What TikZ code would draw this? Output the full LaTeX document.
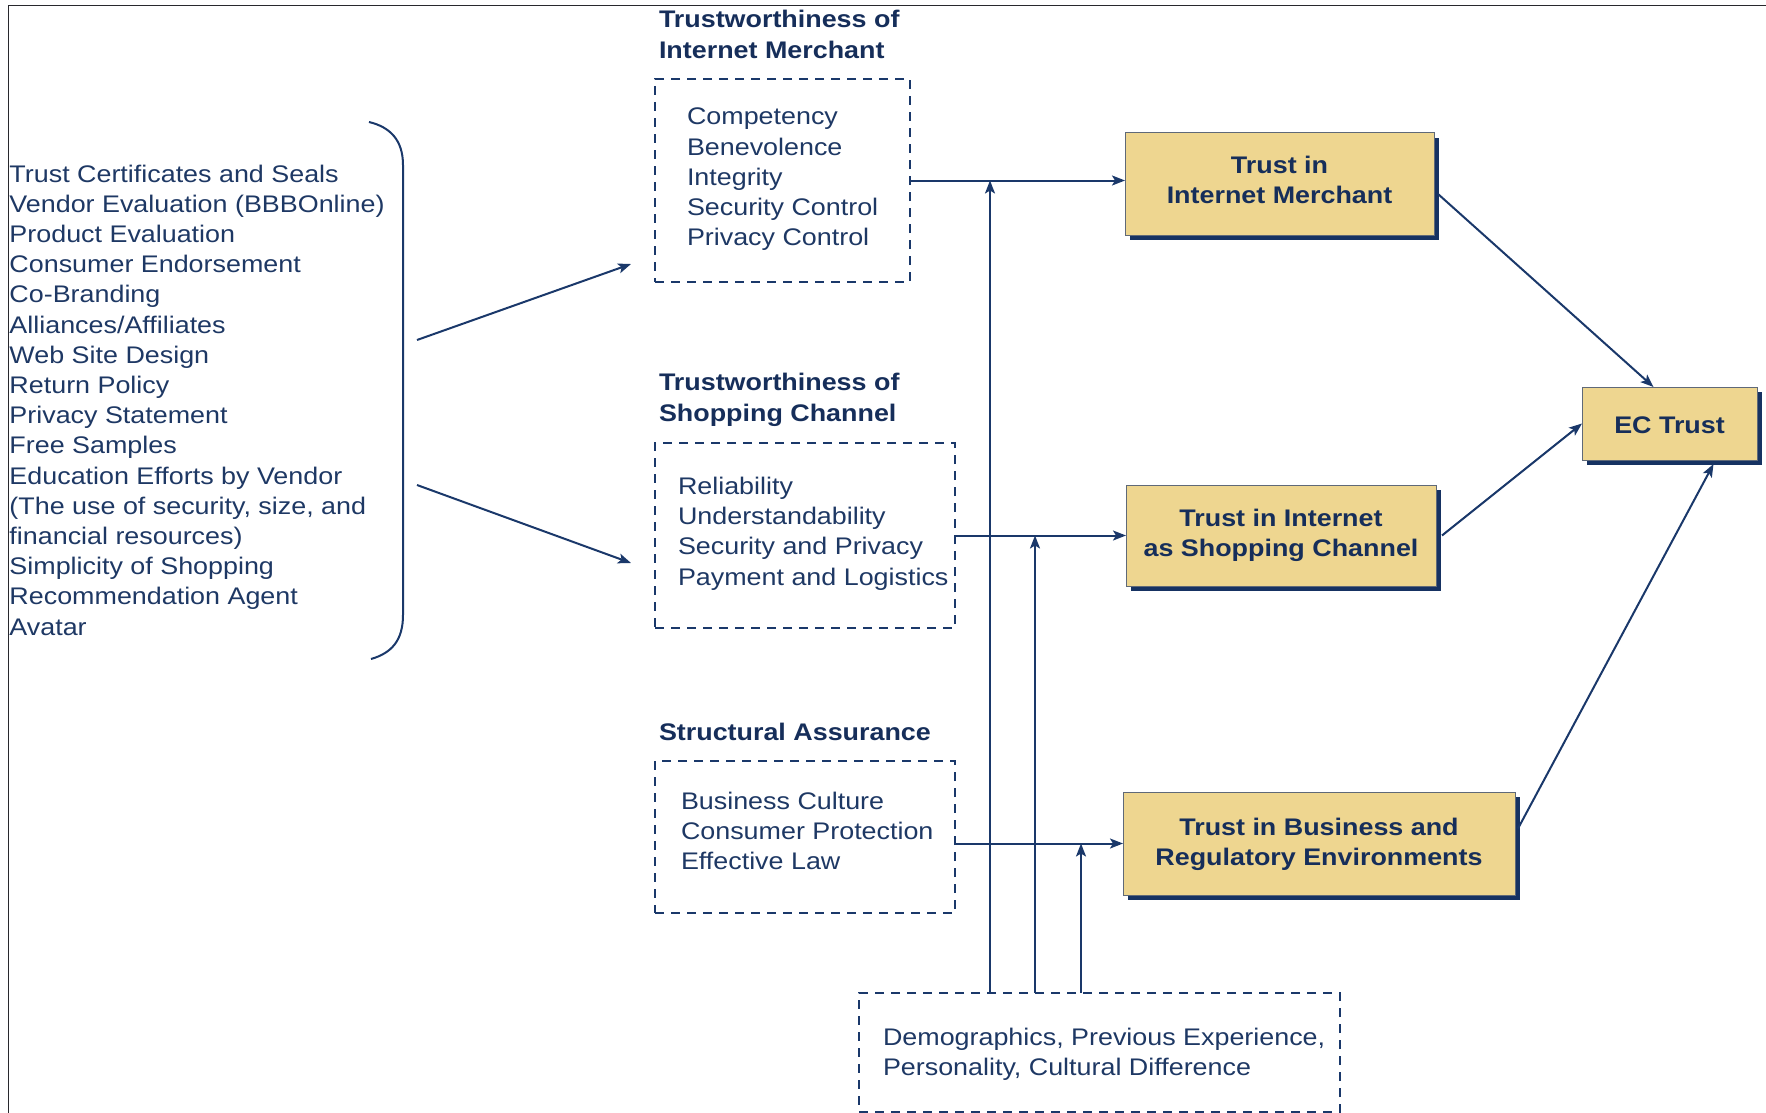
\documentclass[tikz,border=0pt]{standalone}
\usepackage{fontspec}
\setmainfont{Liberation Sans}[FakeStretch=1.12]
\usetikzlibrary{arrows.meta,shadows}

\definecolor{ink}{RGB}{30,56,100}
\definecolor{inkdark}{RGB}{22,46,90}
\definecolor{wire}{RGB}{26,56,106}
\definecolor{boxfill}{RGB}{238,214,144}
\definecolor{boxshadow}{RGB}{22,50,98}
\definecolor{boxedge}{RGB}{95,105,120}
\definecolor{framec}{RGB}{40,40,45}

\begin{document}
\begin{tikzpicture}[x=0.5pt,y=-0.5pt,
  every node/.style={inner sep=0pt,outer sep=0pt},
  body/.style={font=\fontsize{12}{15.1}\selectfont, text=ink, align=left, anchor=west},
  heading/.style={font=\fontsize{12}{15.3}\selectfont\bfseries, text=inkdark, align=left, anchor=west},
  boxtext/.style={font=\fontsize{12}{15}\selectfont\bfseries, text=inkdark, align=center, anchor=center},
  dashbox/.style={draw=wire, line width=0.8pt, dash pattern=on 4.5pt off 3.5pt},
  trustbox/.style={draw=boxedge, line width=0.5pt, fill=boxfill,
    general shadow={fill=boxshadow, shadow xshift=2.5pt, shadow yshift=-2.5pt}},
  arr/.style={draw=wire, line width=1pt, -{Stealth[length=6.5pt,width=5pt,inset=1.5pt]}},
  wireline/.style={draw=wire, line width=1pt}
]
\useasboundingbox (0,0) rectangle (1766,1113);

% frame lines along top and left
\draw[framec, line width=0.8pt] (8.5,1113) -- (8.5,5.5) -- (1766,5.5);

% list of trust-building measures with its bracket
\node[body] (list) at (9.5,400) {Trust Certificates and Seals\\
Vendor Evaluation (BBBOnline)\\
Product Evaluation\\
Consumer Endorsement\\
Co-Branding\\
Alliances/Affiliates\\
Web Site Design\\
Return Policy\\
Privacy Statement\\
Free Samples\\
Education Efforts by Vendor\\
(The use of security, size, and\\
financial resources)\\
Simplicity of Shopping\\
Recommendation Agent\\
Avatar};
\draw[wireline] (369,122) .. controls (390,127) and (403,140) .. (403,165)
  -- (403,615) .. controls (403,640) and (392,653) .. (371,659);

% dashed antecedent boxes
\node[heading] (h1) at (659,34.5) {Trustworthiness of\\Internet Merchant};
\node[dashbox, minimum width=127.5pt, minimum height=101.5pt] (b1) at (782.5,180.5) {};
\node[body] (t1) at (687,179.4) {Competency\\Benevolence\\Integrity\\Security Control\\Privacy Control};

\node[heading] (h2) at (659,400) {Trustworthiness of\\Shopping Channel};
\node[dashbox, minimum width=150pt, minimum height=92.5pt] (b2) at (805,535.5) {};
\node[body] (t2) at (678,533.5) {Reliability\\Understandability\\Security and Privacy\\Payment and Logistics};

\node[heading] (h3) at (659,732) {Structural Assurance};
\node[dashbox, minimum width=150pt, minimum height=76pt] (b3) at (805,837) {};
\node[body] (t3) at (681,831) {Business Culture\\Consumer Protection\\Effective Law};

\node[dashbox, minimum width=240.5pt, minimum height=59.5pt] (bot) at (1099.5,1052.5) {};
\node[body] (tbot) at (883,1054) {Demographics, Previous Experience,\\Personality, Cultural Difference};

% trust boxes
\node[trustbox, minimum width=154.5pt, minimum height=51pt] (tim) at (1279.5,184) {};
\node[boxtext] (timt) at (1279.5,180) {Trust in\\Internet Merchant};
\node[trustbox, minimum width=155pt, minimum height=50.5pt] (tis) at (1281,535.5) {};
\node[boxtext] (tist) at (1281,535.5) {Trust in Internet\\as Shopping Channel};
\node[trustbox, minimum width=196pt, minimum height=51.5pt] (tbr) at (1319,843.5) {};
\node[boxtext] (tbrt) at (1319,844) {Trust in Business and\\Regulatory Environments};
\node[trustbox, minimum width=87.5pt, minimum height=36.5pt] (ec) at (1669.5,423.5) {};
\node[boxtext] (ect) at (1669.5,425) {EC Trust};

% arrows from the bracket
\coordinate (s1) at (417,340);
\coordinate (e1) at (631,264);
\coordinate (s2) at (417,485);
\coordinate (e2) at (631,563);
\draw[arr] (s1) -- (e1);
\draw[arr] (s2) -- (e2);

% antecedents into trust boxes
\draw[arr] (b1.east) -- (b1.east -| tim.west);
\draw[arr] (b2.east) -- (b2.east -| tis.west);
\draw[arr] (b3.east |- tbr.west) -- (tbr.west);

% moderating influences from below
\coordinate (x1) at (990,0);
\coordinate (x2) at (1035,0);
\coordinate (x3) at (1081,0);
\draw[arr] (bot.north -| x1) -- (x1 |- b1.east);
\draw[arr] (bot.north -| x2) -- (x2 |- b2.east);
\draw[arr] (bot.north -| x3) -- (x3 |- tbr.west);

% trust boxes into EC Trust
\draw[arr] ([xshift=2pt,yshift=-5pt]tim.east) -- ([xshift=-8pt]ec.north);
\draw[arr] ([xshift=3pt]tis.east) -- (ec.west);
\draw[arr] ([xshift=1.5pt,yshift=7.5pt]tbr.east) -- ([xshift=22pt,yshift=-2pt]ec.south);
\end{tikzpicture}
\end{document}
